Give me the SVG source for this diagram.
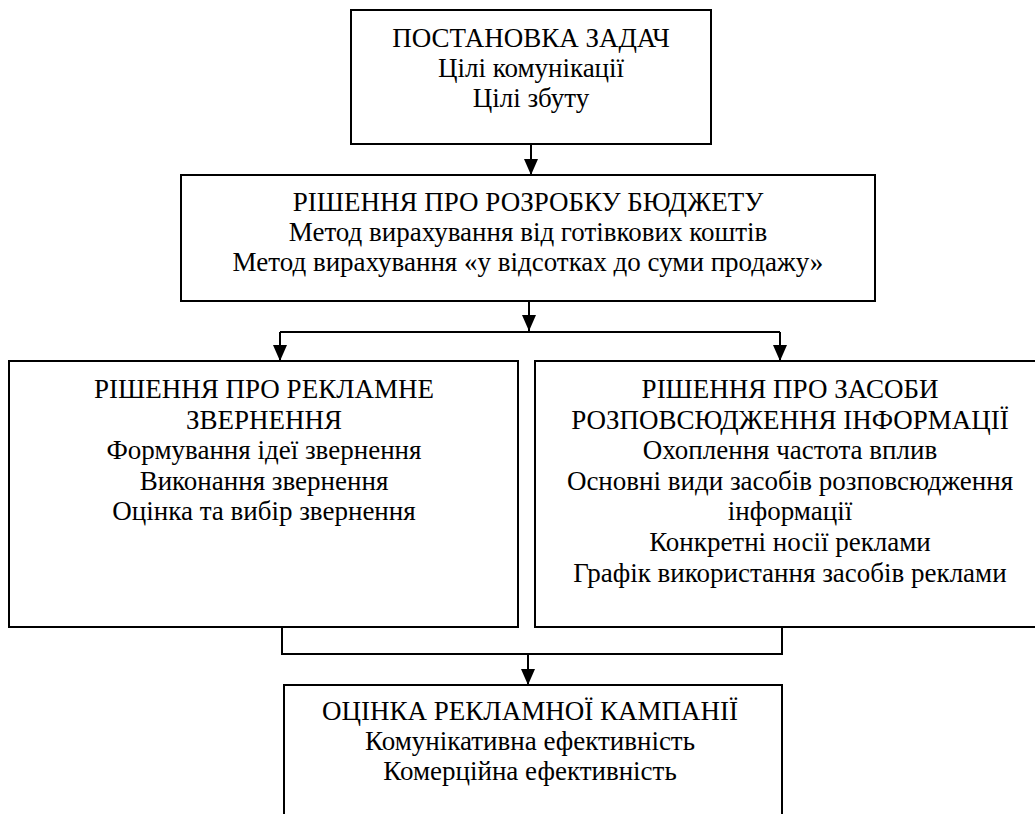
<svg xmlns="http://www.w3.org/2000/svg" width="1035" height="814" viewBox="0 0 1035 814">
<style>
.box{fill:#fff;stroke:#000;stroke-width:2}
.t{font-size:27px;fill:#000;text-anchor:middle}
.c{fill:none;stroke:#000;stroke-width:2}
</style>
<defs>
<marker id="ah" viewBox="0 0 16 14" refX="16" refY="7" markerWidth="16" markerHeight="14" markerUnits="userSpaceOnUse" orient="auto">
<path d="M0,0 L16,7 L0,14 Z" fill="#000"/>
</marker>
</defs>
<rect width="1035" height="814" fill="#fff"/>
<g id="connectors">
<line class="c" x1="531" y1="144" x2="531" y2="175" marker-end="url(#ah)"/>
<line class="c" x1="529" y1="301" x2="529" y2="331" marker-end="url(#ah)"/>
<polyline class="c" points="280,332 780,332"/>
<line class="c" x1="280" y1="332" x2="280" y2="361" marker-end="url(#ah)"/>
<line class="c" x1="780" y1="332" x2="780" y2="361" marker-end="url(#ah)"/>
<polyline class="c" points="282,624 282,654 782,654 782,624"/>
<line class="c" x1="528" y1="654" x2="528" y2="685" marker-end="url(#ah)"/>
</g>
<g font-family="Liberation Serif, Times New Roman, DejaVu Serif, serif">
<g id="node-tasks">
<rect class="box" x="351" y="10" width="360" height="134"/>
<text class="t" x="531" y="47">ПОСТАНОВКА ЗАДАЧ</text>
<text class="t" x="531" y="77">Цілі комунікації</text>
<text class="t" x="531" y="107">Цілі збуту</text>
</g>
<g id="node-budget">
<rect class="box" x="181" y="175" width="694" height="126"/>
<text class="t" x="528" y="211">РІШЕННЯ ПРО РОЗРОБКУ БЮДЖЕТУ</text>
<text class="t" x="528" y="241">Метод вирахування від готівкових коштів</text>
<text class="t" x="528" y="271">Метод вирахування «у відсотках до суми продажу»</text>
</g>
<g id="node-message">
<rect class="box" x="9" y="361" width="509" height="266"/>
<text class="t" x="264" y="398">РІШЕННЯ ПРО РЕКЛАМНЕ</text>
<text class="t" x="264" y="428.6">ЗВЕРНЕННЯ</text>
<text class="t" x="264" y="459.2">Формування ідеї звернення</text>
<text class="t" x="264" y="489.8">Виконання звернення</text>
<text class="t" x="264" y="520.4">Оцінка та вибір звернення</text>
</g>
<g id="node-media">
<rect class="box" x="535" y="361" width="510" height="266"/>
<text class="t" x="790" y="398">РІШЕННЯ ПРО ЗАСОБИ</text>
<text class="t" x="790" y="428.6">РОЗПОВСЮДЖЕННЯ ІНФОРМАЦІЇ</text>
<text class="t" x="790" y="459.2">Охоплення частота вплив</text>
<text class="t" x="790" y="489.8">Основні види засобів розповсюдження</text>
<text class="t" x="790" y="520.4">інформації</text>
<text class="t" x="790" y="551">Конкретні носії реклами</text>
<text class="t" x="790" y="581.6">Графік використання засобів реклами</text>
</g>
<g id="node-evaluation">
<rect class="box" x="284" y="685" width="498" height="150"/>
<text class="t" x="530" y="720">ОЦІНКА РЕКЛАМНОЇ КАМПАНІЇ</text>
<text class="t" x="530" y="750">Комунікативна ефективність</text>
<text class="t" x="530" y="780">Комерційна ефективність</text>
</g>
</g>
</svg>
